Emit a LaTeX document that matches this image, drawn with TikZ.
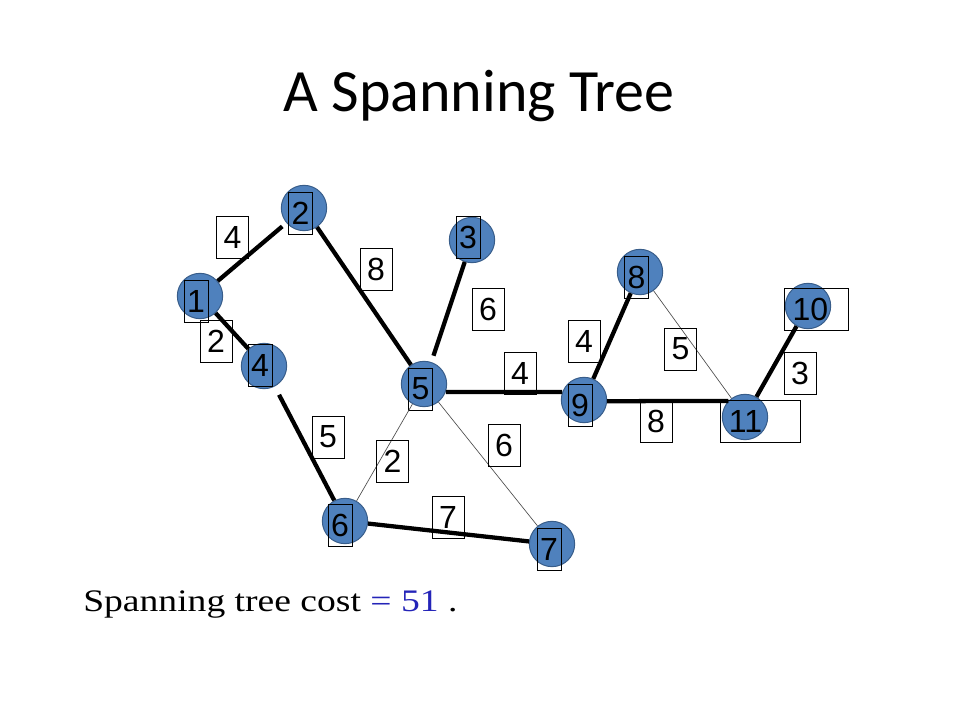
\documentclass[tikz,border=0pt]{standalone}
\usepackage{fontspec}
\usepackage{xcolor}
\setmainfont{Liberation Serif}
\newfontfamily\titlefont{Carlito}
\newfontfamily\numfont{Liberation Sans}
\newfontfamily\costfont[FakeStretch=1.2]{Liberation Serif}
\usepackage{tikz}
\usetikzlibrary{positioning}
\definecolor{nodefill}{RGB}{79,129,189}
\definecolor{nodeline}{RGB}{56,93,138}
\definecolor{costblue}{RGB}{36,36,184}
\tikzset{
  treenode/.style={
    circle, draw=nodeline, fill=nodefill, line width=0.75pt,
    minimum size=34pt, inner sep=0pt
  },
  numbox/.style={
    draw, line width=0.6pt, inner sep=0pt,
    minimum width=18pt, minimum height=31.5pt,
    font=\numfont\fontsize{24}{28}\selectfont
  },
  costbox/.style={
    numbox, minimum width=24pt
  },
  widebox/.style={
    numbox, align=left, inner xsep=6.5pt
  },
  treeedge/.style={line width=3.2pt},
  spareedge/.style={line width=0.5pt, color=gray!60!black},
}

\begin{document}
\begin{tikzpicture}[x=0.75pt, y=-0.75pt]
  \useasboundingbox (0,0) rectangle (960,720);

  % Title
  \node[font=\titlefont\fontsize{45}{50}\selectfont, anchor=base]
    (title) at (479,112) {A Spanning Tree};

  % Vertices
  \node[treenode] (n1) at (200,296) {};
  \node[treenode] (n2) at (304,208) {};
  \node[treenode] (n3) at (472,240) {};
  \node[treenode] (n4) at (264,366) {};
  \node[treenode] (n5) at (424,384) {};
  \node[treenode] (n6) at (345,521) {};
  \node[treenode] (n7) at (552,544) {};
  \node[treenode] (n8) at (640,272) {};
  \node[treenode] (n9) at (584,400) {};
  \node[treenode] (n10) at (808,306) {};
  \node[treenode] (n11) at (745,417) {};

  % Vertex numbers
  \node[numbox] (t1) at (196,301) {1};
  \node[numbox] (t2) at (300.5,213.5) {2};
  \node[numbox] (t3) at (468,237.5) {3};
  \node[numbox] (t4) at (260,365.5) {4};
  \node[numbox] (t5) at (420.5,389) {5};
  \node[numbox] (t6) at (340,525) {6};
  \node[numbox] (t7) at (549,549) {7};
  \node[numbox] (t8) at (636.5,277.5) {8};
  \node[numbox] (t9) at (580,405) {9};
  \node[widebox, text width=35pt] (t10) at (816,309) {10};
  \node[widebox, text width=47.5pt] (t11) at (760.5,421) {11};

  % Edges not in the tree
  \draw[spareedge] (n5) -- (n6);
  \draw[spareedge] (n5) -- (n7);
  \draw[spareedge] (n8) -- (n11);

  % Tree edges
  \draw[treeedge, shorten >=4pt] (n1) -- (n2);
  \draw[treeedge] (n1) -- (n4);
  \draw[treeedge] (n2) -- (n5);
  \draw[treeedge, shorten >=5pt] (n3) -- (n5);
  \draw[treeedge, shorten <=7pt] (n4) -- (n6);
  \draw[treeedge] (n5.-20) -- (n9.160);
  \draw[treeedge] (n6) -- (n7);
  \draw[treeedge] (n8) -- (n9);
  \draw[treeedge] (n9.-3) -- (n11.136);
  \draw[treeedge] (n10) -- (n11);

  % Edge costs
  \node[costbox] (c12) at (232.5,237) {4};
  \node[costbox] (c14) at (216,341) {2};
  \node[costbox] (c25) at (376,269) {8};
  \node[costbox] (c35) at (488,309) {6};
  \node[costbox] (c46) at (328,437) {5};
  \node[costbox] (c56) at (392.5,461) {2};
  \node[costbox] (c57) at (504,445) {6};
  \node[costbox] (c59) at (520,373) {4};
  \node[costbox] (c67) at (448,517.5) {7};
  \node[costbox] (c89) at (584,341) {4};
  \node[costbox] (c811) at (680.5,349) {5};
  \node[costbox] (c911) at (656,421.5) {8};
  \node[costbox] (c1011) at (800,373) {3};

  % Total
  \node[font=\costfont\fontsize{23.5}{28}\selectfont, anchor=base west,
    inner sep=0pt] (total) at (83,611)
    {Spanning tree cost {\color{costblue}= 51} .};
\end{tikzpicture}
\end{document}
